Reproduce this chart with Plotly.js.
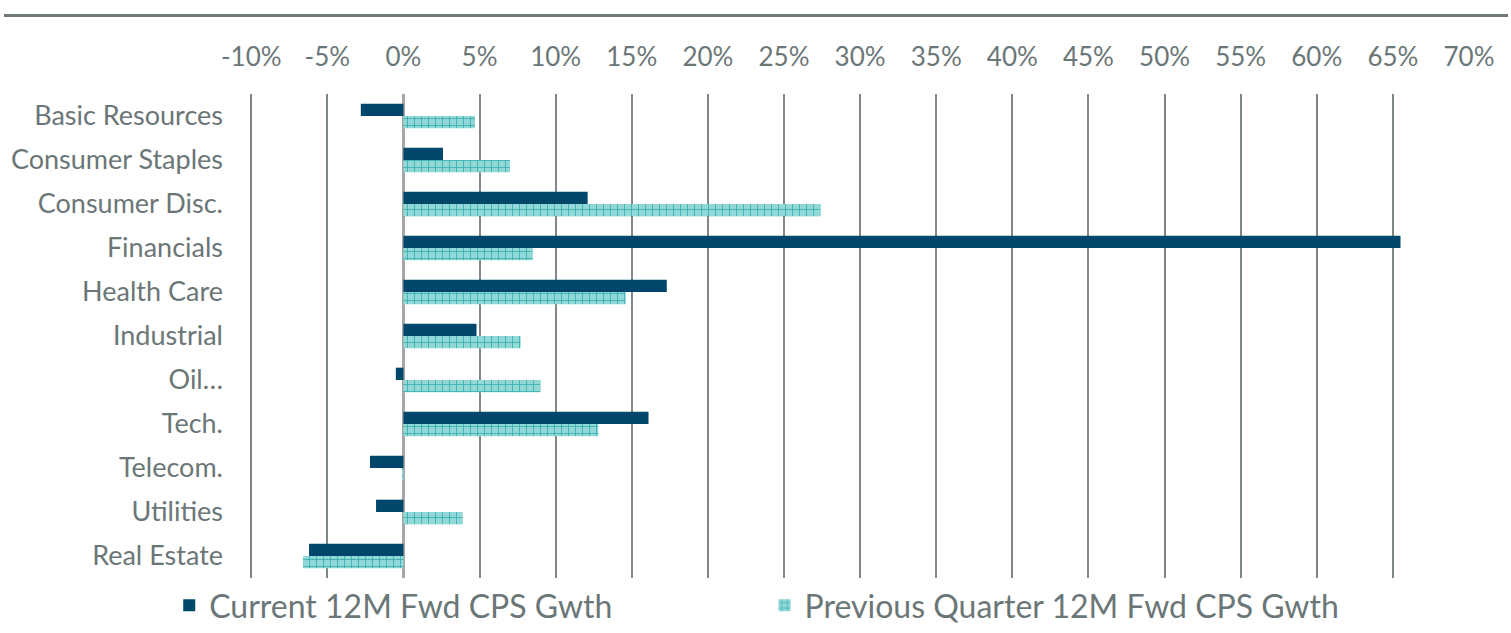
<!DOCTYPE html>
<html>
<head>
<meta charset="utf-8">
<script src="https://cdn.plot.ly/plotly-3.0.1.min.js"></script>
<style>html,body{margin:0;padding:0;background:#fff}#chart{width:1511px;height:633px}</style>
</head>
<body>
<div id="chart"></div>
<script>
var categories = ["Basic Resources","Consumer Staples","Consumer Disc.","Financials","Health Care","Industrial","Oil…","Tech.","Telecom.","Utilities","Real Estate"];
var currentGrowth = [-2.8, 2.6, 12.1, 65.5, 17.3, 4.8, -0.5, 16.1, -2.2, -1.8, -6.2];
var previousGrowth = [4.7, 7.0, 27.4, 8.5, 14.6, 7.7, 9.0, 12.8, -0.1, 3.9, -6.6];
var seriesNames = ["Current 12M Fwd CPS Gwth", "Previous Quarter 12M Fwd CPS Gwth"];
var tickVals = [-10,-5,0,5,10,15,20,25,30,35,40,45,50,55,60,65,70];
var tickText = tickVals.map(function(v){return v + "%";});

var textColor = "#6b7677";
var fontFam = "Lato, 'Open Sans', sans-serif";

var traces = [
  {
    type: "bar", orientation: "h", name: seriesNames[0], legend: "legend",
    y: categories, x: currentGrowth,
    marker: {color: "#00476b", line: {width: 0}}
  },
  {
    type: "bar", orientation: "h", name: seriesNames[1], legend: "legend2",
    y: categories, x: previousGrowth,
    marker: {color: "#8ad4d3", line: {width: 0},
      pattern: {shape: "+", fgcolor: "#33aeae", bgcolor: "#92d8d6", size: 7, solidity: 0.22, fillmode: "replace"}}
  }
];

var legendFont = {size: 32, color: textColor, family: fontFam};

var layout = {
  width: 1511, height: 633,
  margin: {l: 250, r: 42, t: 94, b: 49},
  paper_bgcolor: "#fff", plot_bgcolor: "#fff",
  barmode: "group", bargap: 0.44, bargroupgap: 0,
  font: {family: fontFam, color: textColor},
  xaxis: {
    side: "top", range: [-10.08, 70], tickvals: tickVals, ticktext: tickText,
    showgrid: true, gridcolor: "#7f8787", gridwidth: 2,
    zeroline: true, zerolinecolor: "#a6a6a6", zerolinewidth: 3,
    showline: false, ticks: "", ticklabelstandoff: 22,
    tickfont: {size: 26, color: textColor, family: fontFam}
  },
  yaxis: {
    autorange: "reversed", type: "category",
    showgrid: false, zeroline: false, showline: false, ticks: "",
    ticklabelstandoff: 26,
    tickfont: {size: 27, color: textColor, family: fontFam}
  },
  showlegend: true,
  legend: {
    orientation: "h", xref: "container", yref: "container",
    x: 0.112, xanchor: "left", y: 0.0, yanchor: "bottom",
    font: legendFont, itemwidth: 30
  },
  legend2: {
    orientation: "h", xref: "container", yref: "container",
    x: 0.506, xanchor: "left", y: 0.0, yanchor: "bottom",
    font: legendFont, itemwidth: 30
  },
  shapes: [
    {type: "line", xref: "paper", yref: "paper", x0: -0.2018, x1: 1.032, y0: 1.162, y1: 1.162,
     line: {color: "#6f7878", width: 3}}
  ]
};

Plotly.newPlot("chart", traces, layout, {displayModeBar: false, staticPlot: true});
</script>
</body>
</html>
